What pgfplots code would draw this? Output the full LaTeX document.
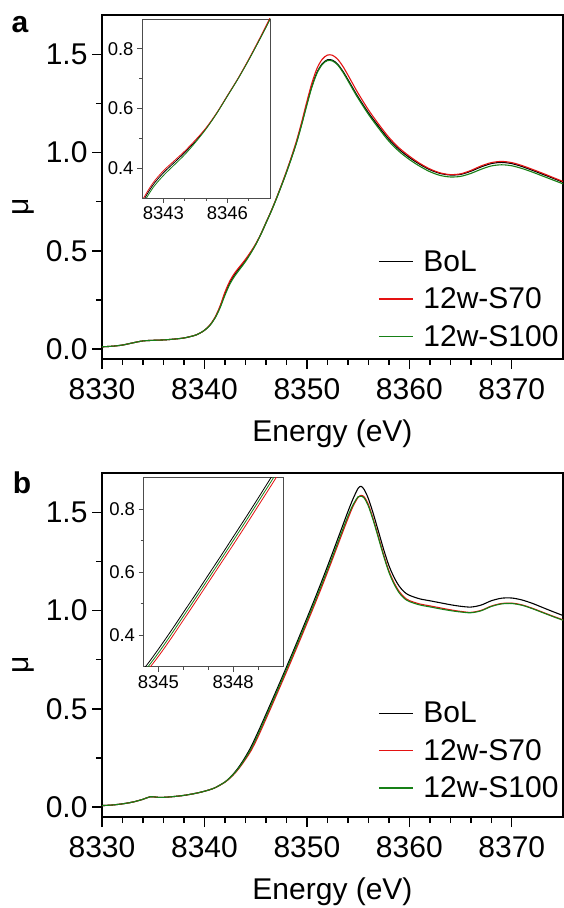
\documentclass[border=0pt]{standalone}
\usepackage{pgfplots}
\pgfplotsset{compat=1.18}
\usepackage{pgfplotstable}
\usepackage{fontspec}
\setmainfont{Liberation Sans}
\definecolor{cred}{RGB}{228,18,18}
\definecolor{cgreen}{RGB}{22,128,22}

\pgfplotstableread{
x bol s70 s100
8330 0.012 0.012 0.012
8331 0.015 0.015 0.015
8332 0.021 0.021 0.021
8333 0.032 0.032 0.032
8334 0.042 0.042 0.042
8335 0.045 0.045 0.045
8336 0.047 0.047 0.047
8337 0.051 0.051 0.051
8338 0.057 0.057 0.057
8339 0.069 0.069 0.069
8339.5 0.080 0.080 0.080
8340 0.096 0.096 0.096
8340.5 0.120 0.121 0.119
8341 0.157 0.159 0.155
8341.5 0.212 0.216 0.207
8342 0.283 0.290 0.274
8342.5 0.342 0.349 0.333
8343 0.384 0.391 0.375
8343.5 0.418 0.424 0.410
8344 0.452 0.457 0.445
8344.5 0.490 0.494 0.486
8345 0.533 0.535 0.531
8345.5 0.584 0.585 0.583
8346 0.642 0.643 0.641
8346.5 0.700 0.701 0.699
8347 0.763 0.765 0.762
8347.5 0.830 0.833 0.829
8348 0.900 0.904 0.898
8348.5 0.975 0.980 0.972
8349 1.055 1.062 1.051
8349.5 1.148 1.157 1.143
8350 1.248 1.260 1.242
8350.5 1.340 1.356 1.335
8351 1.410 1.430 1.405
8351.5 1.452 1.475 1.448
8352 1.472 1.496 1.468
8352.5 1.470 1.495 1.466
8353 1.450 1.475 1.446
8353.5 1.415 1.440 1.410
8354 1.372 1.395 1.366
8354.5 1.327 1.348 1.320
8355 1.283 1.302 1.276
8356 1.203 1.218 1.195
8357 1.133 1.145 1.124
8358 1.068 1.078 1.058
8359 1.016 1.024 1.006
8360 0.975 0.982 0.965
8361 0.941 0.946 0.931
8362 0.913 0.917 0.903
8363 0.894 0.897 0.884
8364 0.886 0.888 0.876
8365 0.889 0.892 0.879
8366 0.905 0.909 0.894
8367 0.927 0.932 0.915
8368 0.944 0.949 0.932
8369 0.950 0.955 0.938
8370 0.944 0.949 0.933
8371 0.929 0.934 0.919
8372 0.910 0.915 0.901
8373 0.890 0.895 0.881
8374 0.870 0.874 0.861
8375 0.849 0.853 0.841
}\dataA

\pgfplotstableread{
x bol s70 s100
8330 0.008 0.008 0.008
8331 0.011 0.011 0.011
8332 0.017 0.017 0.017
8333 0.026 0.026 0.026
8334 0.040 0.040 0.040
8334.7 0.053 0.053 0.053
8335.5 0.050 0.050 0.050
8336 0.050 0.050 0.050
8337 0.054 0.054 0.054
8338 0.060 0.060 0.060
8339 0.069 0.069 0.069
8340 0.081 0.081 0.081
8341 0.098 0.098 0.098
8342 0.128 0.127 0.128
8342.5 0.151 0.148 0.150
8343 0.180 0.174 0.177
8343.5 0.215 0.206 0.210
8344 0.256 0.243 0.249
8344.5 0.302 0.283 0.292
8345 0.356 0.333 0.344
8345.5 0.413 0.389 0.401
8346 0.472 0.448 0.460
8346.5 0.531 0.507 0.519
8347 0.591 0.567 0.579
8347.5 0.651 0.627 0.639
8348 0.712 0.687 0.700
8348.5 0.773 0.748 0.761
8349 0.835 0.810 0.823
8349.5 0.898 0.872 0.885
8350 0.961 0.935 0.948
8350.5 1.025 0.998 1.011
8351 1.090 1.062 1.075
8351.5 1.156 1.127 1.140
8352 1.224 1.194 1.207
8352.5 1.293 1.262 1.275
8353 1.363 1.331 1.344
8353.5 1.433 1.400 1.413
8354 1.503 1.467 1.480
8354.5 1.568 1.530 1.538
8355 1.622 1.576 1.579
8355.3 1.632 1.586 1.582
8355.6 1.615 1.578 1.572
8356 1.570 1.540 1.532
8356.5 1.490 1.462 1.455
8357 1.400 1.373 1.366
8357.5 1.310 1.283 1.276
8358 1.230 1.203 1.196
8358.5 1.170 1.143 1.136
8359 1.125 1.098 1.091
8359.5 1.095 1.068 1.062
8360 1.078 1.051 1.046
8361 1.060 1.034 1.029
8362 1.050 1.024 1.019
8363 1.040 1.014 1.009
8364 1.030 1.004 1.000
8365 1.022 0.996 0.993
8366 1.018 0.991 0.989
8367 1.028 1.001 0.999
8368 1.050 1.023 1.021
8369 1.063 1.036 1.034
8370 1.064 1.038 1.036
8371 1.054 1.029 1.027
8372 1.037 1.012 1.010
8373 1.016 0.992 0.990
8374 0.995 0.972 0.970
8375 0.975 0.953 0.951
}\dataB

\pgfplotsset{
  mainax/.style={
    scale only axis, width=461pt, height=344pt,
    xmin=8330, xmax=8375, ymin=-0.05, ymax=1.7,
    xtick={8330,8340,8350,8360,8370}, minor x tick num=4,
    ytick={0,0.5,1,1.5}, minor y tick num=1,
    tick pos=left, tick align=outside,
    major tick length=10pt, minor tick length=6pt,
    axis line style={line width=1.6pt},
    every tick/.style={line width=1.4pt, black},
    ticklabel style={font=\fontsize{30}{30}\selectfont},
    xticklabel shift=6pt, yticklabel shift=1pt,
    /pgf/number format/assume math mode=true,
    x tick label style={/pgf/number format/.cd, 1000 sep={}},
    y tick label style={/pgf/number format/.cd, fixed, fixed zerofill, precision=1},
    xlabel={Energy (eV)},
    xlabel style={font=\fontsize{30}{30}\selectfont, at={(axis description cs:0.5,-0.216)}, anchor=center},
    ylabel={μ},
    ylabel style={font=\fontsize{30}{30}\selectfont, at={(axis description cs:-0.17,0.442)}, anchor=center},
    legend style={draw=none, fill=none, font=\fontsize{30}{30}\selectfont,
      at={(0.995,0.027)}, anchor=south east, row sep=11pt, inner sep=0pt},
    legend cell align=left,
    legend image code/.code={\draw[#1, line width=1.5pt] (0pt,0pt) -- (34pt,0pt); \path (42pt,0pt);},
    every axis plot/.append style={line width=1.1pt, smooth},
  },
  insetax/.style={
    scale only axis, ymin=0.3, ymax=0.9,
    ytick={0.4,0.6,0.8}, minor ytick={0.5,0.7},
    tick pos=left, tick align=outside,
    major tick length=5pt, minor tick length=3pt,
    axis line style={line width=0.8pt, black!70},
    every tick/.style={line width=0.8pt, black!70},
    ticklabel style={font=\fontsize{18.5}{18.5}\selectfont},
    /pgf/number format/assume math mode=true,
    x tick label style={/pgf/number format/.cd, 1000 sep={}},
    y tick label style={/pgf/number format/.cd, fixed, fixed zerofill, precision=1},
    axis background/.style={fill=white},
    every axis plot/.append style={line width=0.8pt, smooth},
  },
}

\begin{document}
\begin{tikzpicture}
\fill[white] (0,0) rectangle (564pt,908pt);
\useasboundingbox (0,0) rectangle (564pt,908pt);

% Panel a
\begin{axis}[mainax, at={(102pt,549pt)}, anchor=south west]
\addplot[black] table[x=x, y=bol] {\dataA};
\addplot[cred] table[x=x, y=s70] {\dataA};
\addplot[cgreen] table[x=x, y=s100] {\dataA};
\legend{BoL, 12w-S70, 12w-S100}
\end{axis}
\begin{axis}[insetax, at={(142pt,710pt)}, anchor=south west, width=128pt, height=179pt,
  xmin=8342, xmax=8348, xtick={8343,8346}, minor xtick={8344,8345,8347}]
\addplot[black] table[x=x, y=bol] {\dataA};
\addplot[cred] table[x=x, y=s70] {\dataA};
\addplot[cgreen] table[x=x, y=s100] {\dataA};
\end{axis}
\node[font=\bfseries\fontsize{30}{30}\selectfont] at (20pt,883pt) {a};

% Panel b
\begin{axis}[mainax, at={(102pt,91pt)}, anchor=south west, legend style={at={(0.995,0.045)}}]
\addplot[black] table[x=x, y=bol] {\dataB};
\addplot[cred] table[x=x, y=s70] {\dataB};
\addplot[cgreen] table[x=x, y=s100] {\dataB};
\legend{BoL, 12w-S70, 12w-S100}
\end{axis}
\begin{axis}[insetax, at={(143.5pt,241.3pt)}, anchor=south west, width=139.5pt, height=189pt,
  xmin=8344.4, xmax=8350, xtick={8345,8348}, minor xtick={8346,8347,8349}]
\addplot[black] table[x=x, y=bol] {\dataB};
\addplot[cred] table[x=x, y=s70] {\dataB};
\addplot[cgreen] table[x=x, y=s100] {\dataB};
\end{axis}
\node[font=\bfseries\fontsize{30}{30}\selectfont] at (22pt,425.5pt) {b};
\end{tikzpicture}
\end{document}
